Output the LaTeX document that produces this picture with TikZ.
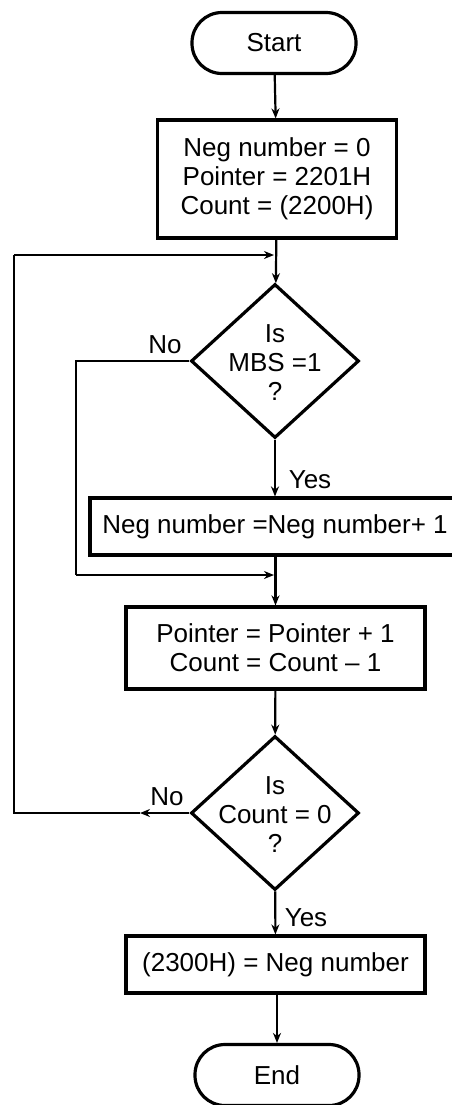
\documentclass[tikz,border=0pt]{standalone}
\usepackage{fontspec}
\setmainfont{Liberation Sans}
\usetikzlibrary{shapes.geometric,arrows.meta}

\begin{document}
\begin{tikzpicture}[x=0.5pt, y=-0.5pt,
    every node/.style={font=\fontsize{13}{14.5}\selectfont, inner sep=0pt},
    terminal/.style={draw, line width=1.6pt, rounded corners=15pt, minimum width=82pt, minimum height=30.5pt},
    process/.style={draw, line width=1.6pt, align=center},
    decision/.style={draw, diamond, line width=1.6pt, minimum width=84pt, minimum height=77pt},
    flow/.style={line width=1.1pt, -{Stealth[length=5pt,width=4pt]}}]
    \useasboundingbox (0,0) rectangle (451,1105);

    % Start and initialisation
    \node[terminal] (start) at (274,43) {Start};
    \node[process, minimum width=119.5pt, minimum height=59pt] (init) at (277,179)
        {Neg number = 0\\Pointer = 2201H\\Count = (2200H)};

    % First test
    \node[decision] (mbs) at (275,361) {};
    \node[align=center] (mbstxt) at (275,363) {Is\\MBS =1\\?};
    \node[process, minimum width=185pt, minimum height=28.5pt] (incr) at (275,526.5)
        {Neg number =Neg number+ 1};

    % Update pointer and count
    \node[process, minimum width=149.5pt, minimum height=41pt] (upd) at (275.5,648)
        {Pointer = Pointer + 1\\Count = Count -- 1};

    % Second test
    \node[decision] (cnt) at (275,813) {};
    \node[align=center] (cnttxt) at (275,815) {Is\\Count = 0\\?};
    \node[process, minimum width=149.5pt, minimum height=28.5pt] (store) at (275.5,964.5)
        {(2300H) = Neg number};
    \node[terminal] (end) at (277,1075) {End};

    % Labels
    \node (no1) at (165,345) {No};
    \node (yes1) at (310,480) {Yes};
    \node (no2) at (167,797) {No};
    \node (yes2) at (306,918) {Yes};

    % Junction points
    \coordinate (loopj) at (274,255);
    \coordinate (skipj) at (274,575);
    \coordinate (skipl) at (76,575);
    \coordinate (backl) at (14,255);
    \coordinate (backa) at (140,813);

    % Main flow
    \draw[flow] (start) -- (init);
    \draw[flow] (init) -- (mbs);
    \draw[flow] (mbs) -- (incr);
    \draw[flow] (incr.south -| upd.north) -- (upd);
    \draw[flow] (upd) -- (cnt);
    \draw[flow] (cnt) -- (store);
    \draw[flow] (store.south -| end.north) -- (end);

    % No branch of first test
    \draw[line width=1.1pt] (mbs.west) -| (skipl) -- (skipl |- skipj);
    \draw[flow] (skipl) -- (skipj);

    % Loop back from second test
    \draw[flow] (cnt.west) -- (backa);
    \draw[line width=1.1pt] (backa) -| (backl);
    \draw[flow] (backl) -- (loopj);
\end{tikzpicture}
\end{document}
